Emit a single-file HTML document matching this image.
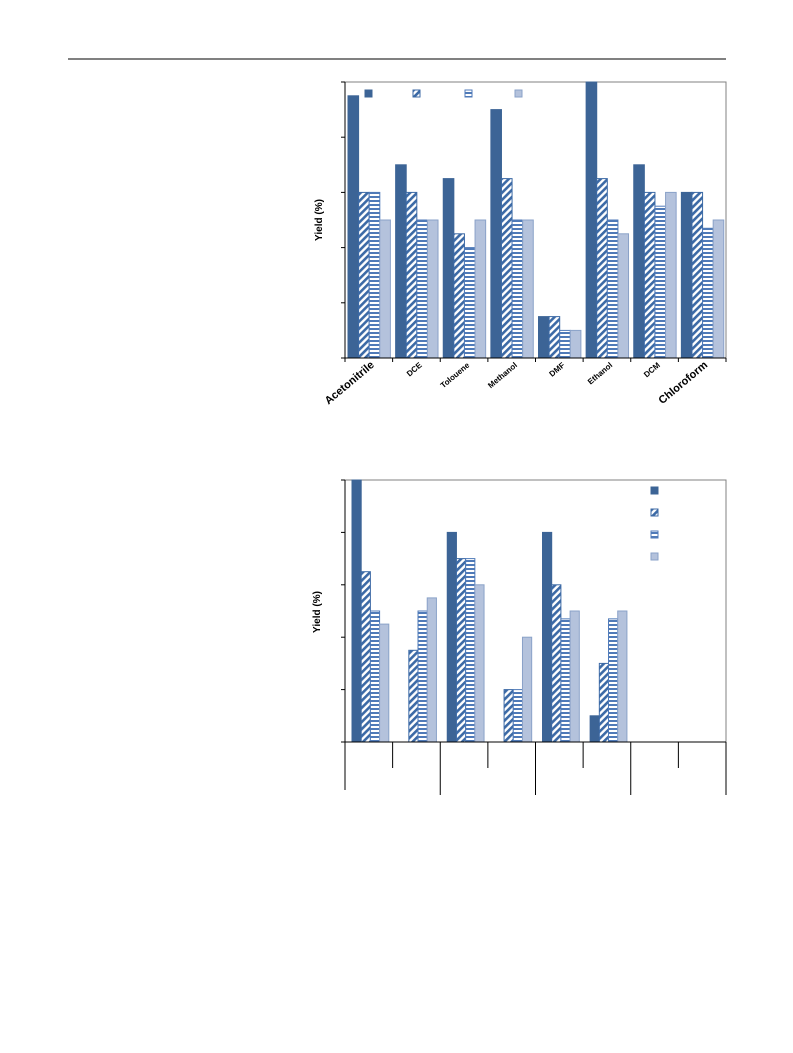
<!DOCTYPE html>
<html><head><meta charset="utf-8"><style>
body{margin:0;background:#fff;width:793px;height:1053px;overflow:hidden;font-family:"Liberation Sans",sans-serif}
svg{position:absolute;left:0;top:0}
</style></head><body>
<svg width="793" height="1053">
<defs>
<pattern id="hatch" width="5" height="5" patternUnits="userSpaceOnUse" patternTransform="rotate(45)">
<rect width="5" height="5" fill="#fff"/><rect width="2.6" height="5" fill="#3c6aa6"/></pattern>
<pattern id="horiz" width="4" height="4" patternUnits="userSpaceOnUse">
<rect width="4" height="4" fill="#fff"/><rect width="4" height="2" fill="#4f7ab8"/></pattern>
</defs>
<line x1="68" y1="59" x2="726" y2="59" stroke="#000" stroke-width="1"/>
<g id="c1"></g>
<g id="c2"></g>
</svg>
<script>
const cats1=["Acetonitrile","DCE","Tolouene","Methanol","DMF","Ethanol","DCM","Chloroform"];
const s1a=[95,70,65,90,15,100,70,60];
const s1b=[60,60,45,65,15,65,60,60];
const s1c=[60,50,40,50,10,50,55,47];
const s1d=[50,50,50,50,10,45,60,50];
const s2a=[100,0,80,0,80,10,0,0];
const s2b=[65,35,70,20,60,30,0,0];
const s2c=[50,50,70,20,47,47,0,0];
const s2d=[45,55,60,40,50,50,0,0];
const yTicks=[0,20,40,60,80,100];
const NS="http://www.w3.org/2000/svg";
const fills=[["#3c6496","#3c6496"],["url(#hatch)","#3c6aa6"],["url(#horiz)","#4f7ab8"],["#b4c2dc","#8aa2c8"]];
function mk(p,t,a){const e=document.createElementNS(NS,t);for(const k in a)e.setAttribute(k,a[k]);p.appendChild(e);return e;}
function chart(g,x0,x1,y0,y1,series,bw,off,n){
  const ys=v=>y1-(v/100)*(y1-y0);
  const gw=(x1-x0)/n;
  const gx=i=>x0+i*gw;
  const fr=mk(g,'rect',{x:x0,y:y0,width:x1-x0,height:y1-y0,fill:'none',stroke:'#808080','stroke-width':1});
  
  series.forEach((s,si)=>{s.forEach((v,i)=>{if(v<=0)return;
    const r=mk(g,'rect',{x:gx(i)+off+si*bw,y:ys(v),width:bw,height:y1-ys(v),fill:fills[si][0],stroke:fills[si][1],'stroke-width':1});
    
    });});
  mk(g,'line',{x1:x0,y1:y0,x2:x0,y2:y1,stroke:'#000'});
  mk(g,'line',{x1:x0,y1:y1,x2:x1,y2:y1,stroke:'#000'});
  yTicks.forEach(t=>{const l=mk(g,'line',{x1:x0-4,y1:ys(t),x2:x0,y2:ys(t),stroke:'#000'});
    });
  return {gx,gw};
}
const g1=document.getElementById('c1');
const a1=chart(g1,345,726,82,358,[s1a,s1b,s1c,s1d],10.6,3,8);
for(let i=0;i<=8;i++){mk(g1,'line',{x1:a1.gx(i),y1:358,x2:a1.gx(i),y2:362,stroke:'#000'});}
cats1.forEach((c,i)=>{const big=(c=="Acetonitrile"||c=="Chloroform");
  const cx=a1.gx(i)+a1.gw/2+6,cy=366;
  const t=mk(g1,'text',{x:cx,y:cy,'text-anchor':'end','font-size':big?11:8,'font-weight':'bold',transform:`rotate(-40 ${cx} ${cy})`});
  t.textContent=c;});
const yt1=mk(g1,'text',{x:322,y:220,'text-anchor':'middle','font-size':10,'font-weight':'bold',transform:'rotate(-90 322 220)'});
yt1.textContent="Yield (%)";
[[365,0],[413,1],[465,2],[515,3]].forEach(([x,si])=>{const r=mk(g1,'rect',{x:x,y:90,width:7,height:7,fill:fills[si][0],stroke:fills[si][1]});
  });
const g2=document.getElementById('c2');
const a2=chart(g2,345,726,480,742,[s2a,s2b,s2c,s2d],9.2,7,8);
for(let i=0;i<=8;i++){const long=i%2==0;
  const l=mk(g2,'line',{x1:a2.gx(i),y1:742,x2:a2.gx(i),y2:long?(i==0?790:795):768,stroke:'#000'});
  }
const yt2=mk(g2,'text',{x:320,y:612,'text-anchor':'middle','font-size':10,'font-weight':'bold',transform:'rotate(-90 320 612)'});
yt2.textContent="Yield (%)";
[0,1,2,3].forEach(si=>{const r=mk(g2,'rect',{x:651,y:487+si*22,width:7,height:7,fill:fills[si][0],stroke:fills[si][1]});
  });
</script>
</body></html>
